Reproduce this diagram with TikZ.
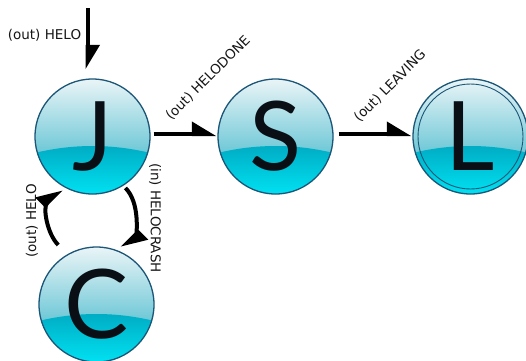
\documentclass[tikz,border=0pt]{standalone}
\usepackage{fontspec}
\setmainfont{DejaVu Sans}
\newfontfamily\ballfont{Lato}
\usetikzlibrary{arrows.meta,calc}

\definecolor{rim}{HTML}{1B5577}
\definecolor{glosstop}{HTML}{EEF6F8}
\definecolor{glossmid}{HTML}{6EC8D7}
\definecolor{bandtop}{HTML}{00AAC2}
\definecolor{bandbot}{HTML}{00E4F4}
\definecolor{ink}{HTML}{0A0F16}
\definecolor{labelink}{HTML}{161616}

\tikzset{
  ball/.style={circle, minimum size=115pt, inner sep=0pt, draw=rim, line width=1.3pt,
    text=ink, font=\ballfont\fontsize{96}{96}\selectfont,
    path picture={
      \coordinate (bc) at (path picture bounding box.center);
      \shade[top color=glosstop, bottom color=glossmid]
        ($(bc)+(-60pt,60pt)$) rectangle ($(bc)+(60pt,-16pt)$);
      \shade[top color=bandtop, bottom color=bandbot]
        ($(bc)+(-60pt,-17pt)$) .. controls ($(bc)+(-20pt,-7pt)$) and ($(bc)+(20pt,-7pt)$)
        .. ($(bc)+(60pt,-17pt)$) -- ($(bc)+(60pt,-60pt)$) -- ($(bc)+(-60pt,-60pt)$) -- cycle;
    }},
  conn/.style={line width=4pt, draw=black,
    -{Triangle[harpoon, length=21pt, width=24pt]}},
  lbl/.style={font=\fontsize{13.5}{14}\selectfont, text=labelink, inner sep=0pt}
}

\begin{document}
\begin{tikzpicture}[x=1pt, y=-1pt]
\useasboundingbox (0,0) rectangle (526,360);

% states
\node[ball] (J) at (92.5,136.5) {J};
\node[ball] (S) at (275.5,136.5) {S};
\node[ball] (L) at (470.5,136.5) {L};
\node[ball] (C) at (96.5,304.5) {C};
% accepting ring of the final state
\draw[rim, line width=0.9pt] (L.center) circle[radius=52.5pt];

% incoming HELO
\coordinate (start) at (87.5,8);
\draw[conn, shorten >=9pt] (start) -- (start |- J.north);
\node[lbl] (heloTop) at (44.5,35) {(out) HELO};

% transitions
\draw[conn, shorten <=3pt, shorten >=1pt] ([yshift=2.5pt]J.east) -- ([yshift=2.5pt]S.west);
\node[lbl, rotate=45] (doneLbl) at (208,78) {(out) HELODONE};

\draw[conn, shorten <=5pt, shorten >=1pt] ([yshift=2.5pt]S.east) -- ([yshift=2.5pt]L.west);
\node[lbl, rotate=45] (leaveLbl) at (390,86) {(out) LEAVING};

\draw[conn, shorten <=13pt, shorten >=3pt]
  (C.120) .. controls +(135:29pt) and +(225:29pt) .. (J.240);
\node[lbl, rotate=90] (heloLeft) at (32,221) {(out) HELO};

\draw[conn, shorten <=3pt, shorten >=4pt]
  (J.-58) .. controls +(-45:24pt) and +(45:24pt) .. (C.67);
\node[lbl, rotate=-90] (crashLbl) at (155,218) {(in) HELOCRASH};
\end{tikzpicture}
\end{document}
